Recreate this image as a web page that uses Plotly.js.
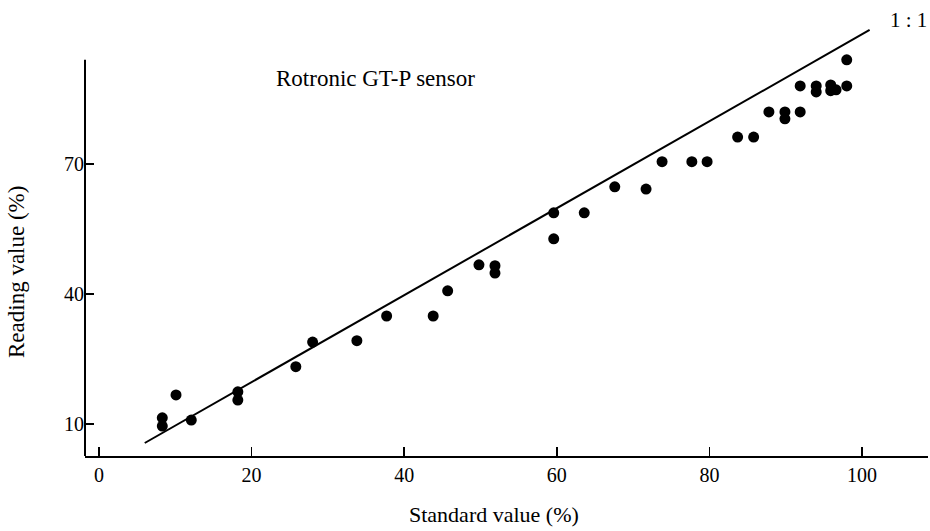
<!DOCTYPE html>
<html>
<head>
<meta charset="utf-8">
<script src="https://cdn.plot.ly/plotly-3.0.1.min.js"></script>
<style>
html,body{margin:0;padding:0;background:#fff;}
#chart{width:930px;height:531px;}
</style>
</head>
<body>
<div id="chart"></div>
<script>
// Standard value (%) vs sensor reading (%)
var standardValues = [8.3, 8.3, 10.1, 12.1, 18.2, 18.2, 25.8, 28.0, 33.8, 37.7,
  43.8, 45.7, 49.8, 51.9, 51.9, 59.6, 59.6, 63.6, 67.6, 71.7,
  73.8, 77.7, 79.7, 83.7, 85.8, 87.8, 89.9, 89.9, 91.9, 91.9,
  94.0, 94.0, 95.9, 95.9, 96.6, 98.0, 98.0];
var readingValues = [11.4, 9.5, 16.7, 10.9, 17.4, 15.5, 23.2, 28.9, 29.2, 34.9,
  34.9, 40.7, 46.7, 46.5, 44.8, 58.7, 52.7, 58.7, 64.7, 64.2,
  70.5, 70.5, 70.5, 76.2, 76.2, 82.0, 82.0, 80.4, 82.0, 88.0,
  88.0, 86.6, 88.2, 86.9, 87.1, 88.0, 94.0];
// 1:1 reference line end points
var lineX = [6, 101];
var lineY = [5.6, 100.9];
var xTicks = [0, 20, 40, 60, 80, 100];
var yTicks = [10, 40, 70];

var serif = "Liberation Serif, Times New Roman, serif";

var traces = [
  {x: lineX, y: lineY, mode: "lines", type: "scatter",
   line: {color: "#000", width: 2}, hoverinfo: "skip", showlegend: false, cliponaxis: false},
  {x: standardValues, y: readingValues, mode: "markers", type: "scatter",
   marker: {color: "#000", size: 11, line: {width: 0}}, showlegend: false, cliponaxis: false}
];

var margin = {l: 85, r: 2, t: 20, b: 75};
function px2paperX(px){ return (px - margin.l) / (930 - margin.l - margin.r); }
function px2paperY(py){ return (531 - margin.b - py) / (531 - margin.t - margin.b); }

var layout = {
  width: 930, height: 531,
  margin: margin,
  paper_bgcolor: "#fff", plot_bgcolor: "#fff",
  showlegend: false,
  font: {family: serif, color: "#000", size: 18},
  xaxis: {
    range: [-1.83, 108.65], tickvals: xTicks, ticktext: xTicks.map(String),
    ticks: "inside", ticklen: 9, tickwidth: 1.5, tickcolor: "#000",
    showline: true, linecolor: "#000", linewidth: 2, mirror: false,
    showgrid: false, zeroline: false, fixedrange: true,
    tickfont: {family: serif, size: 20, color: "#000"}
  },
  yaxis: {
    range: [2.6, 103.2], tickvals: yTicks, ticktext: yTicks.map(String),
    ticks: "inside", ticklen: 9, tickwidth: 1.5, tickcolor: "#000",
    showline: false, showgrid: false, zeroline: false, fixedrange: true,
    tickfont: {family: serif, size: 20, color: "#000"}
  },
  shapes: [
    {type: "line", xref: "paper", yref: "y", x0: 0, x1: 0, y0: 2.6, y1: 94,
     line: {color: "#000", width: 2}}
  ],
  annotations: [
    {text: "Rotronic GT-P sensor", xref: "paper", yref: "paper", x: px2paperX(375), y: px2paperY(78),
     xanchor: "center", yanchor: "middle",
     showarrow: false, font: {family: serif, size: 23, color: "#000"}},
    {text: "1 : 1", xref: "paper", yref: "paper", x: px2paperX(929), xanchor: "right",
     y: px2paperY(20), yanchor: "middle",
     showarrow: false, font: {family: serif, size: 21, color: "#000"}},
    {text: "Standard value (%)", xref: "paper", yref: "paper", x: px2paperX(494), y: px2paperY(514),
     xanchor: "center", yanchor: "middle",
     showarrow: false, font: {family: serif, size: 22, color: "#000"}},
    {text: "Reading value (%)", xref: "paper", yref: "paper", x: px2paperX(16), y: px2paperY(272),
     xanchor: "center", yanchor: "middle",
     textangle: -90, showarrow: false, font: {family: serif, size: 23, color: "#000"}}
  ]
};

Plotly.newPlot("chart", traces, layout, {displayModeBar: false, staticPlot: true});
</script>
</body>
</html>
